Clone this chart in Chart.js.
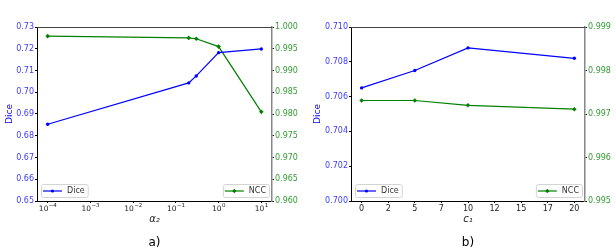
<!DOCTYPE html>
<html><head><meta charset="utf-8">
<script src="https://cdn.jsdelivr.net/npm/chart.js@4"></script>
<style>
html,body{margin:0;padding:0;background:#fff;width:616px;height:249px;overflow:hidden}
.w{position:absolute;top:0;width:308px;height:249px}
</style></head><body>
<div class="w" style="left:0"><canvas id="ca" width="308" height="249"></canvas></div>
<div class="w" style="left:308px"><canvas id="cb" width="308" height="249"></canvas></div>
<script>
// ---- data ----
const alphaValues = [1e-4, 0.2, 0.3, 1, 10];
const diceA = [0.6853, 0.7043, 0.7075, 0.7182, 0.7199];
const nccA = [0.9979, 0.9975, 0.9973, 0.9955, 0.9805];
const alphaTicks = [1e-4, 1e-3, 1e-2, 1e-1, 1, 10];
const alphaTickExponents = ['\u22124', '\u22123', '\u22122', '\u22121', '0', '1'];

const c1Values = [0, 5, 10, 20];
const diceB = [0.7065, 0.7075, 0.7088, 0.7082];
const nccB = [0.99731, 0.99731, 0.99720, 0.99711];
const c1Ticks = [0, 2.5, 5, 7.5, 10, 12.5, 15, 17.5, 20];
const c1TickLabels = ['0', '2', '5', '7', '10', '12', '15', '17', '20'];

const FONT = "'DejaVu Sans', sans-serif";
const BLUE = '#0000ff', GREEN = '#008000';
const BLUE_T = '#3b3bff', GREEN_T = '#349a34';

function legendBox(ctx, x, y, h, color, style, text) {
  ctx.save();
  ctx.font = '8px ' + FONT;
  const tw = ctx.measureText(text).width;
  const w = 26 + tw + 3;
  if (x < 0) x = -x - w;
  ctx.beginPath();
  ctx.roundRect(x + 0.5, y + 0.5, w, h, 2);
  ctx.fillStyle = 'rgba(255,255,255,0.85)';
  ctx.fill();
  ctx.strokeStyle = '#d4d4d4';
  ctx.lineWidth = 1;
  ctx.stroke();
  const cy = y + h / 2 + 0.5;
  ctx.beginPath();
  ctx.moveTo(x + 2, cy); ctx.lineTo(x + 21, cy);
  ctx.strokeStyle = color; ctx.lineWidth = 1.2; ctx.stroke();
  ctx.fillStyle = color;
  const mx = x + 11.5;
  ctx.beginPath();
  if (style === 'circle') { ctx.arc(mx, cy, 1.6, 0, Math.PI * 2); }
  else { ctx.moveTo(mx, cy - 2.2); ctx.lineTo(mx + 2.2, cy); ctx.lineTo(mx, cy + 2.2); ctx.lineTo(mx - 2.2, cy); ctx.closePath(); }
  ctx.fill();
  ctx.fillStyle = '#333';
  ctx.textBaseline = 'middle';
  ctx.fillText(text, x + 26, cy);
  ctx.restore();
}

function makeChart(id, o) {
  const extras = {
    id: 'extras',
    afterDraw(chart) {
      const ctx = chart.ctx, a = chart.chartArea;
      ctx.save();
      // top spine
      ctx.beginPath(); ctx.moveTo(a.left, a.top + 0.5); ctx.lineTo(a.right, a.top + 0.5);
      ctx.strokeStyle = '#444'; ctx.lineWidth = 1; ctx.stroke();
      // power-of-ten tick labels
      if (o.xExps) {
        const xs = chart.scales.x;
        ctx.fillStyle = '#222';
        ctx.textBaseline = 'alphabetic';
        o.xTicks.forEach((v, i) => {
          const px = xs.getPixelForValue(v);
          ctx.font = '7.5px ' + FONT;
          const w1 = ctx.measureText('10').width;
          ctx.font = '5.5px ' + FONT;
          const w2 = ctx.measureText(o.xExps[i]).width;
          const x0 = px - (w1 + w2) / 2;
          ctx.font = '7.5px ' + FONT; ctx.textAlign = 'left';
          ctx.fillText('10', x0, 210.5);
          ctx.font = '5.5px ' + FONT;
          ctx.fillText(o.xExps[i], x0 + w1 + 0.3, 207);
        });
      }
      // y axis title
      ctx.save();
      ctx.translate(9.5, (a.top + a.bottom) / 2);
      ctx.rotate(-Math.PI / 2);
      ctx.font = '9px ' + FONT; ctx.fillStyle = BLUE;
      ctx.textAlign = 'center'; ctx.textBaseline = 'middle';
      ctx.fillText('Dice', 0, 0);
      ctx.restore();
      // x axis title
      const cx = (a.left + a.right) / 2;
      ctx.font = 'italic 10px ' + FONT; ctx.fillStyle = '#222';
      ctx.textAlign = 'center'; ctx.textBaseline = 'middle';
      ctx.fillText(o.xTitle, cx, 219);
      // panel label
      ctx.font = '12px ' + FONT; ctx.fillStyle = '#000';
      ctx.fillText(o.panel, cx, 243);
      ctx.restore();
      legendBox(ctx, a.left + o.legL, a.bottom - 17, 13, BLUE, 'circle', 'Dice');
      legendBox(ctx, -(a.right - 3), a.bottom - 17, 13, GREEN, 'diamond', 'NCC');
    }
  };
  const tickGrid = { display: true, drawOnChartArea: false, drawTicks: true, tickLength: 2, tickColor: '#000', tickWidth: 1 };
  return new Chart(document.getElementById(id), {
    type: 'scatter',
    data: {
      datasets: [
        { label: 'Dice', data: o.xs.map((x, i) => ({ x, y: o.dice[i] })), showLine: true, yAxisID: 'y',
          borderColor: BLUE, backgroundColor: BLUE, borderWidth: 1.2, pointRadius: 1.7, pointStyle: 'circle', pointBorderWidth: 0 },
        { label: 'NCC', data: o.xs.map((x, i) => ({ x, y: o.ncc[i] })), showLine: true, yAxisID: 'y2',
          borderColor: GREEN, backgroundColor: GREEN, borderWidth: 1.2, pointRadius: 2.3, pointStyle: 'rectRot', pointBorderWidth: 0 }
      ]
    },
    options: {
      responsive: false, animation: false, devicePixelRatio: 1,
      layout: { padding: { top: 27, left: 0, right: 0, bottom: 0 } },
      plugins: { legend: { display: false }, tooltip: { enabled: false } },
      scales: {
        x: {
          type: o.xType, min: o.xMin, max: o.xMax, position: 'bottom',
          afterBuildTicks: s => { s.ticks = o.xTicks.map(v => ({ value: v })); },
          afterFit: s => { s.height = 48; },
          ticks: { autoSkip: false, maxRotation: 0, padding: 1, color: '#222', font: { family: FONT, size: 8 },
                   callback: (v, i) => o.xLabels ? o.xLabels[i] : '' },
          grid: tickGrid,
          border: { display: true, color: '#000', width: 1 }
        },
        y: {
          position: 'left', min: o.y1[0], max: o.y1[1],
          afterBuildTicks: s => { const t = []; for (let k = 0; k <= o.y1[3]; k++) t.push({ value: o.y1[0] + k * o.y1[2] }); s.ticks = t; },
          afterFit: s => { s.width = o.wL; },
          ticks: { padding: 1, color: BLUE_T, font: { family: FONT, size: 8 }, callback: v => v.toFixed(o.y1[4]) },
          grid: tickGrid,
          border: { display: true, color: '#000', width: 1 }
        },
        y2: {
          position: 'right', min: o.y2[0], max: o.y2[1],
          afterBuildTicks: s => { const t = []; for (let k = 0; k <= o.y2[3]; k++) t.push({ value: o.y2[0] + k * o.y2[2] }); s.ticks = t; },
          afterFit: s => { s.width = o.wR; },
          ticks: { padding: 1, color: GREEN_T, font: { family: FONT, size: 8 }, callback: v => v.toFixed(o.y2[4]) },
          grid: tickGrid,
          border: { display: true, color: '#888', width: 1.5 }
        }
      }
    },
    plugins: [extras]
  });
}

makeChart('ca', {
  xType: 'logarithmic', xMin: Math.pow(10, -4.25), xMax: Math.pow(10, 1.25),
  xTicks: alphaTicks, xLabels: null, xExps: alphaTickExponents, xs: alphaValues, dice: diceA, ncc: nccA,
  y1: [0.65, 0.73, 0.01, 8, 2], y2: [0.96, 1.0, 0.005, 8, 3], wL: 37, wR: 36,
  xTitle: '\u03B1\u2082', panel: 'a)', legL: 4
});
makeChart('cb', {
  xType: 'linear', xMin: -1, xMax: 21,
  xTicks: c1Ticks, xLabels: c1TickLabels, xExps: null, xs: c1Values, dice: diceB, ncc: nccB,
  y1: [0.700, 0.710, 0.002, 5, 3], y2: [0.995, 0.999, 0.001, 4, 3], wL: 43, wR: 31,
  xTitle: 'c\u2081', panel: 'b)', legL: 4
});
</script>
</body></html>
